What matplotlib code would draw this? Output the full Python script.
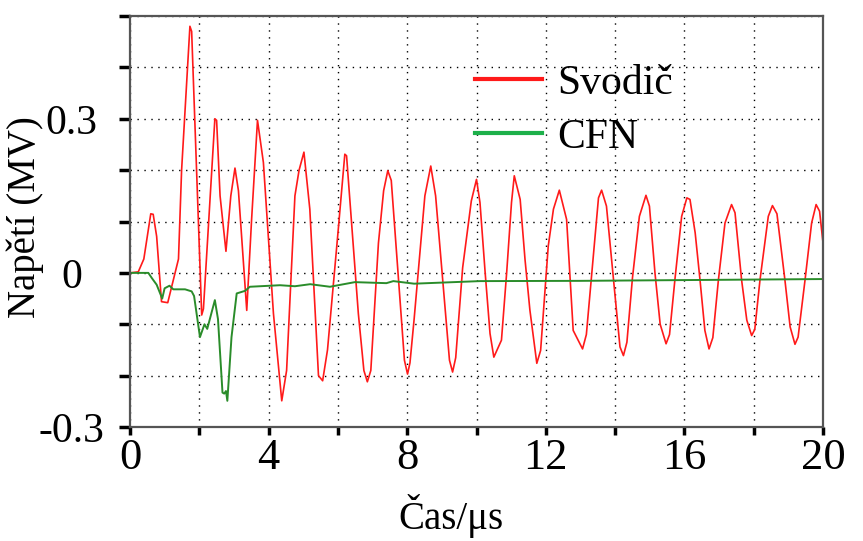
import matplotlib
matplotlib.use('Agg')
import matplotlib.pyplot as plt
from matplotlib.ticker import MultipleLocator, FuncFormatter

# Svodič (surge arrester) voltage
red_t = [0.00, 0.24, 0.40, 0.60, 0.67, 0.77, 0.91, 1.09, 1.40, 1.49, 1.73, 1.78,
         2.07, 2.12, 2.45, 2.50, 2.60, 2.77, 2.91, 3.03, 3.13, 3.37, 3.51, 3.68,
         3.85, 4.14, 4.38, 4.52, 4.76, 4.88, 5.02, 5.19, 5.44, 5.56, 5.70, 6.01, 6.20,
         6.25, 6.59, 6.75, 6.85, 6.95, 7.17, 7.32, 7.44, 7.54, 7.92, 8.01, 8.08, 8.20,
         8.51, 8.68, 8.82, 9.22, 9.31, 9.40, 9.60, 9.85, 10.00, 10.10, 10.25, 10.39,
         10.50, 10.72, 10.87, 11.01, 11.09, 11.26, 11.40, 11.54, 11.74, 11.85, 12.07,
         12.22, 12.39, 12.60, 12.79, 13.06, 13.17, 13.52, 13.61, 13.75, 14.14, 14.24,
         14.34, 14.50, 14.70, 14.89, 14.99, 15.15, 15.30, 15.47, 15.57, 15.73, 15.92,
         16.07, 16.16, 16.31, 16.45, 16.59, 16.71, 16.82, 16.98, 17.17, 17.36, 17.46,
         17.65, 17.80, 17.94, 18.03, 18.18, 18.42, 18.54, 18.67, 18.90, 19.05, 19.19,
         19.28, 19.48, 19.67, 19.80, 19.90, 20.00]
red_v = [0.000, 0.002, 0.027, 0.115, 0.114, 0.071, -0.056, -0.058, 0.027, 0.200, 0.480, 0.470,
         -0.082, -0.070, 0.300, 0.297, 0.150, 0.042, 0.150, 0.204, 0.160, -0.073, 0.104, 0.297,
         0.215, -0.079, -0.249, -0.190, 0.150, 0.200, 0.235, 0.124, -0.200, -0.210, -0.150, 0.084, 0.231,
         0.228, -0.079, -0.190, -0.212, -0.190, 0.058, 0.160, 0.199, 0.180, -0.170, -0.197, -0.175, -0.090,
         0.150, 0.208, 0.150, -0.170, -0.193, -0.165, 0.010, 0.140, 0.182, 0.137, 0.000, -0.118,
         -0.164, -0.131, 0.000, 0.137, 0.189, 0.143, 0.026, -0.072, -0.176, -0.151, 0.052,
         0.124, 0.161, 0.104, -0.112, -0.148, -0.120, 0.146, 0.161, 0.130, -0.144, -0.161,
         -0.135, -0.010, 0.110, 0.151, 0.130, 0.000, -0.100, -0.138, -0.120, -0.010, 0.110,
         0.146, 0.143, 0.078, -0.014, -0.112, -0.148, -0.126, -0.014, 0.097, 0.133, 0.117,
         -0.014, -0.092, -0.122, -0.110, -0.014, 0.110, 0.131, 0.115, -0.014, -0.105, -0.139,
         -0.125, -0.014, 0.097, 0.133, 0.120, 0.058]

# CFN voltage
green_t = [0.00, 0.53, 0.63, 0.77, 0.93, 1.00, 1.14, 1.25, 1.59, 1.78, 1.85, 2.02,
           2.15, 2.23, 2.45, 2.54, 2.67, 2.72, 2.77, 2.81, 2.93, 3.08, 3.32, 3.46,
           4.33, 4.76, 5.20, 5.77, 6.49, 7.40, 7.60, 8.20, 10.10, 12.99, 20.00]
green_v = [0.000, 0.000, -0.010, -0.023, -0.050, -0.030, -0.025, -0.032, -0.032, -0.036, -0.045, -0.125,
           -0.100, -0.109, -0.053, -0.090, -0.233, -0.235, -0.230, -0.249, -0.125, -0.040, -0.035, -0.027,
           -0.024, -0.026, -0.022, -0.027, -0.018, -0.020, -0.016, -0.021, -0.016, -0.0155, -0.012]

plt.rcParams['font.family'] = ['Liberation Serif', 'DejaVu Serif']
plt.rcParams['font.size'] = 30

fig = plt.figure(figsize=(8.63, 5.41), dpi=100)
ax = fig.add_axes([0.1506, 0.2107, 0.8031, 0.7597])

ax.plot(red_t, red_v, color='#ff1a1a', lw=1.2, label='Svodič')
ax.plot(green_t, green_v, color='#2a8c2a', lw=1.4, label='CFN')

ax.set_xlim(0, 20)
ax.set_ylim(-0.3, 0.5)
ax.xaxis.set_major_locator(MultipleLocator(2))
ax.yaxis.set_major_locator(MultipleLocator(0.1))
ax.xaxis.set_major_formatter(FuncFormatter(lambda v, p: f'{v:.0f}' if round(v) % 4 == 0 else ''))
ax.yaxis.set_major_formatter(FuncFormatter(
    lambda v, p: {-3: '-0.3', 0: '0', 3: '0.3'}.get(int(round(v * 10)), '')))

ax.grid(True, color='black', linestyle=(0, (1, 4)), linewidth=1.0)
for s in ax.spines.values():
    s.set_color('#555555')
    s.set_linewidth(1.6)
ax.tick_params(direction='out', length=6, width=2.5, color='black', labelsize=32)
ax.tick_params(axis='x', pad=2)
ax.tick_params(axis='y', length=8, pad=34, labelsize=30)

ax.set_xlabel('Čas/μs', fontsize=28)
ax.set_ylabel('Napětí (MV)', fontsize=28)
ax.xaxis.set_label_coords(0.463, -0.163)
ax.yaxis.set_label_coords(-0.124, 0.51)

leg = ax.legend(loc='upper left', bbox_to_anchor=(0.498, 0.883), frameon=False,
                borderaxespad=0, borderpad=0,
                handlelength=1.6, labelspacing=0.37, handletextpad=0.36)
for ln in leg.get_lines():
    ln.set_linewidth(3)
leg.get_lines()[1].set_color('#1db04a')

# centre the y tick labels like the original
fig.canvas.draw()
for lbl in ax.get_yticklabels():
    lbl.set_horizontalalignment('center')

fig.savefig('out.png', dpi=100)
